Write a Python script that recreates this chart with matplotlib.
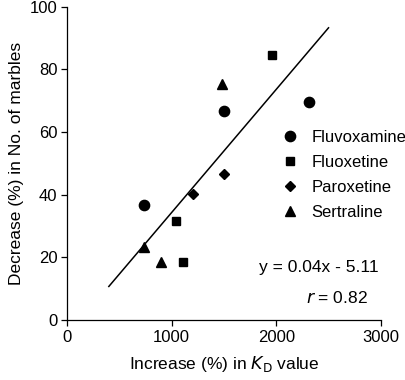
import matplotlib
matplotlib.use('Agg')
import matplotlib.pyplot as plt

plt.rcParams['font.family'] = ['Liberation Sans', 'DejaVu Sans']

# data
fluvoxamine_x = [735, 1500, 2311]
fluvoxamine_y = [36.7, 66.8, 69.6]
fluoxetine_x = [1040, 1106, 1958]
fluoxetine_y = [31.6, 18.6, 84.7]
paroxetine_x = [1203, 1500]
paroxetine_y = [40.3, 46.7]
sertraline_x = [735, 900, 1480]
sertraline_y = [23.2, 18.6, 75.3]

fit_x = [400, 2500]
fit_y = [10.7, 93.3]

series = [
    ('Fluvoxamine', fluvoxamine_x, fluvoxamine_y, 'o', 7.4),
    ('Fluoxetine', fluoxetine_x, fluoxetine_y, 's', 6.0),
    ('Paroxetine', paroxetine_x, paroxetine_y, 'D', 5.2),
    ('Sertraline', sertraline_x, sertraline_y, '^', 7.5),
]

FS = 12.5

fig = plt.figure(figsize=(4.06, 3.80), dpi=100)
ax = fig.add_axes([0.165, 0.158, 0.773, 0.824])

ax.plot(fit_x, fit_y, color='black', lw=1.1, zorder=1)
for name, xs, ys, mk, ms in series:
    ax.plot(xs, ys, linestyle='none', marker=mk, ms=ms, color='black',
            label=name, zorder=2)

ax.set_xlim(0, 3000)
ax.set_ylim(0, 100)
ax.set_xticks([0, 1000, 2000, 3000])
ax.set_yticks([0, 20, 40, 60, 80, 100])
for s in ['top', 'right']:
    ax.spines[s].set_visible(False)
for s in ['left', 'bottom']:
    ax.spines[s].set_linewidth(0.9)
ax.tick_params(direction='out', length=4, width=0.9, labelsize=12, pad=3)

ax.set_xlabel('Increase (%) in $K_{\\mathrm{D}}$ value', fontsize=FS, labelpad=7)
ax.set_ylabel('Decrease (%) in No. of marbles', fontsize=FS, labelpad=4)

leg = ax.legend(loc='upper left', bbox_to_anchor=(282 / 406, 1 - 130 / 380),
                bbox_transform=fig.transFigure, frameon=False,
                fontsize=12, handletextpad=0.75, labelspacing=0.6,
                borderaxespad=0, borderpad=0, handlelength=1.0)

ax.text(0.994, 0.169, 'y = 0.04x - 5.11', transform=ax.transAxes,
        ha='right', va='center', fontsize=FS)
ax.text(0.959, 0.07, '$r$ = 0.82', transform=ax.transAxes,
        ha='right', va='center', fontsize=FS)

fig.savefig('out.png', dpi=100)
